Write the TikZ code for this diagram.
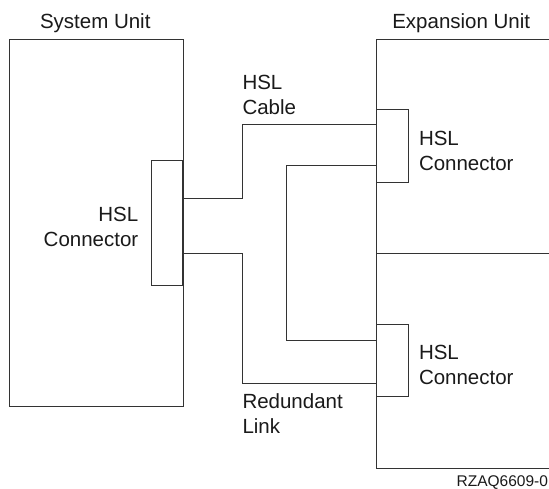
\documentclass[tikz,border=0pt]{standalone}
\usepackage{fontspec}
\setmainfont{Liberation Sans}
\definecolor{ln}{HTML}{333333}
\definecolor{tx}{HTML}{1A1A1A}
\begin{document}
\begin{tikzpicture}[x=1pt,y=-1pt,
  box/.style={draw=ln,line width=0.9pt,inner sep=0pt,outer sep=0pt,anchor=north west},
  wire/.style={draw=ln,line width=0.9pt},
  lbl/.style={inner sep=0pt,outer sep=0pt,text=tx,font=\fontsize{20.5}{25}\selectfont},
  idl/.style={inner sep=0pt,outer sep=0pt,text=tx,font=\fontsize{15.5}{18}\selectfont}]
\useasboundingbox[fill=white] (0,0) rectangle (549,488);
% System unit
\node[box,minimum width=173.7pt,minimum height=367.7pt] (su) at (9.3,39) {};
\node[box,fill=white,minimum width=31.5pt,minimum height=125pt] (sc) at (151.5,160) {};
\draw[ln,line width=1.8pt] (sc.north east) -- (sc.south east);
\node[lbl,anchor=base west] (sut) at (40,28) {System Unit};
\node[lbl,anchor=north east,align=right] (sct) at (138.3,207.6) {HSL\\Connector};
% Expansion unit
\coordinate (etr) at (549,39);
\coordinate (ebr) at (549,468);
\coordinate (emr) at (549,253.3);
\coordinate (etl) at (376,39);
\coordinate (ebl) at (376,468);
\draw[wire] (etr) -- (etl) -- (ebl) -- (ebr);
\draw[wire] (etl |- emr) -- (emr);
\node[box,minimum width=32.3pt,minimum height=72.6pt] (ec1) at (376,109.7) {};
\node[box,minimum width=32.3pt,minimum height=72.4pt] (ec2) at (376,324.3) {};
\node[lbl,anchor=base west] (eut) at (392.3,28) {Expansion Unit};
\node[lbl,anchor=north west,align=left] (ec1t) at (419,130.9) {HSL\\Connector};
\node[lbl,anchor=north west,align=left] (ec2t) at (419,345.2) {HSL\\Connector};
% Cables
\draw[wire] ([yshift=-38pt]sc.north east) -- ++(59,0) |- ([yshift=-14.3pt]ec1.north west);
\draw[wire] ([yshift=-93.3pt]sc.north east) -- ++(59,0) |- ([yshift=-59pt]ec2.north west);
\draw[wire] ([yshift=-56pt]ec1.north west) -- ++(-89.3,0) |- ([yshift=-15.7pt]ec2.north west);
\node[lbl,anchor=north west,align=left] (cbt) at (242.5,74.7) {HSL\\Cable};
\node[lbl,anchor=north west,align=left] (rlt) at (242.5,393.2) {Redundant\\Link};
\node[idl,anchor=base east] (id) at (548,486) {RZAQ6609-0};
\end{tikzpicture}
\end{document}
